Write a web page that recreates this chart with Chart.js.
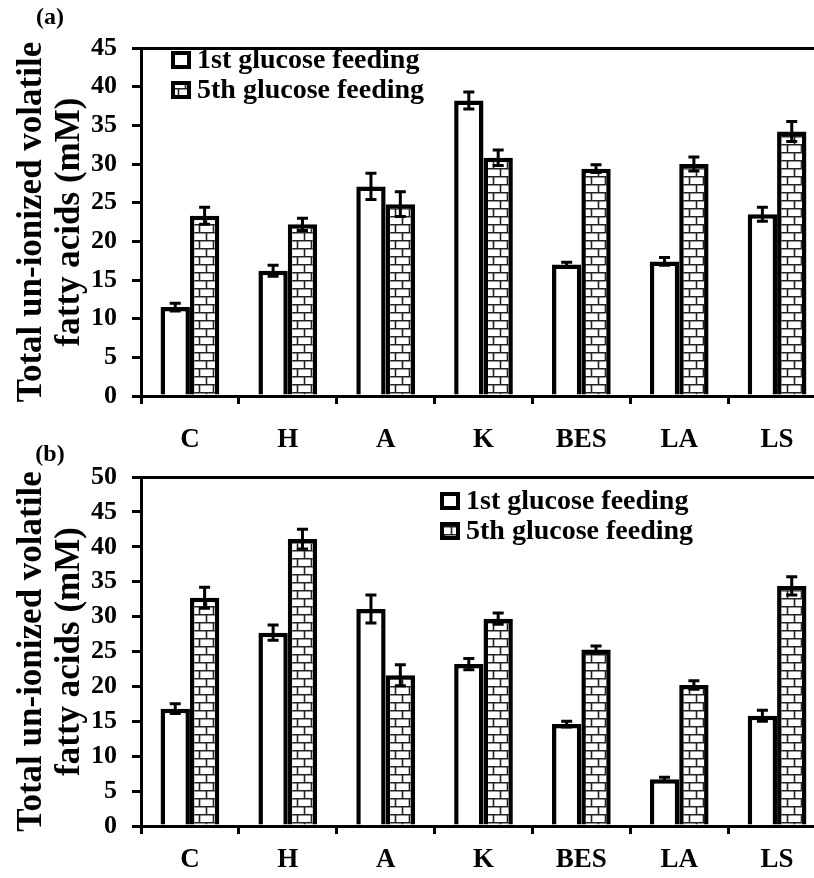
<!DOCTYPE html>
<html lang="en">
<head>
<meta charset="UTF-8">
<title>Total un-ionized volatile fatty acids</title>
<script src="https://cdn.jsdelivr.net/npm/chart.js"></script>
<style>
  html, body { margin: 0; padding: 0; background: #fff; overflow: hidden; }
  .wrap { position: relative; width: 814px; height: 878px; overflow: hidden; }
  canvas { position: absolute; left: 0; }
  #chartA { top: 0; }
  #chartB { top: 430px; }
</style>
</head>
<body>
<div class="wrap">
  <canvas id="chartA" width="840" height="456"></canvas>
  <canvas id="chartB" width="840" height="456"></canvas>
</div>
<script>
var categories = ['C', 'H', 'A', 'K', 'BES', 'LA', 'LS'];
var seriesNames = ['1st glucose feeding', '5th glucose feeding'];
var yTitle = ['Total un-ionized volatile', 'fatty acids (mM)'];

// panel (a)
var firstA    = [11.5, 16.2, 27.1, 38.2, 17.0, 17.4, 23.5];
var firstAErr = [0.5, 0.7, 1.7, 1.1, 0.3, 0.5, 0.9];
var fifthA    = [23.3, 22.2, 24.8, 30.8, 29.4, 30.0, 34.2];
var fifthAErr = [1.1, 0.8, 1.6, 1.0, 0.5, 0.9, 1.3];
var yMaxA = 45;

// panel (b)
var firstB    = [16.8, 27.7, 31.1, 23.2, 14.6, 6.7, 15.8];
var firstBErr = [0.7, 1.1, 2.0, 0.8, 0.4, 0.3, 0.8];
var fifthB    = [32.7, 41.1, 21.6, 29.7, 25.3, 20.2, 34.4];
var fifthBErr = [1.5, 1.4, 1.5, 0.8, 0.5, 0.6, 1.3];
var yMaxB = 50;

var yStep = 5;
var FONT = '"Liberation Serif", "Times New Roman", serif';

function brickPattern(ctx) {
  var c = document.createElement('canvas');
  c.width = 14; c.height = 16;
  var g = c.getContext('2d');
  g.fillStyle = '#fff';
  g.fillRect(0, 0, 14, 16);
  g.strokeStyle = '#222';
  g.lineWidth = 1.6;
  g.beginPath();
  g.moveTo(0, 0.8); g.lineTo(14, 0.8);
  g.moveTo(0, 8.8); g.lineTo(14, 8.8);
  g.moveTo(3.5, 0); g.lineTo(3.5, 8);
  g.moveTo(10.5, 8); g.lineTo(10.5, 16);
  g.stroke();
  return ctx.createPattern(c, 'repeat');
}

// vertical error bars with caps, from dataset.errors
var errorBars = {
  id: 'errorBars',
  afterDatasetsDraw: function(chart) {
    var ctx = chart.ctx, y = chart.scales.y;
    ctx.save();
    ctx.strokeStyle = '#000';
    ctx.lineWidth = 3;
    chart.data.datasets.forEach(function(ds, i) {
      chart.getDatasetMeta(i).data.forEach(function(bar, j) {
        var v = ds.data[j], e = ds.errors[j];
        var top = y.getPixelForValue(v + e), bot = y.getPixelForValue(v - e);
        ctx.beginPath();
        ctx.moveTo(bar.x, top); ctx.lineTo(bar.x, bot);
        ctx.moveTo(bar.x - 5.5, top); ctx.lineTo(bar.x + 5.5, top);
        ctx.moveTo(bar.x - 5.5, bot); ctx.lineTo(bar.x + 5.5, bot);
        ctx.stroke();
      });
    });
    ctx.restore();
  }
};

// legend inside the plot area + the panel letter
var insideLegend = {
  id: 'insideLegend',
  afterDraw: function(chart, args, opts) {
    var ctx = chart.ctx, area = chart.chartArea;
    ctx.save();
    ctx.font = 'bold 28px ' + FONT;
    ctx.textBaseline = 'middle';
    chart.data.datasets.forEach(function(ds, i) {
      var x = area.left + opts.x, yc = area.top + opts.y + i * 30;
      ctx.fillStyle = ds.backgroundColor;
      ctx.fillRect(x, yc - 7, 16, 14);
      ctx.strokeStyle = '#000';
      ctx.lineWidth = 4;
      ctx.strokeRect(x, yc - 7, 16, 14);
      ctx.fillStyle = '#000';
      ctx.fillText(ds.label, x + 24, yc + 1);
    });
    ctx.font = 'bold 24px ' + FONT;
    ctx.textAlign = 'center';
    ctx.fillText(opts.tag, opts.tagX, area.top + opts.tagY);
    ctx.restore();
  }
};

function makeChart(id, first, firstErr, fifth, fifthErr, yMax, legendPos, padTop, labelPad) {
  var ctx = document.getElementById(id).getContext('2d');
  return new Chart(ctx, {
    type: 'bar',
    data: {
      labels: categories,
      datasets: [
        { label: seriesNames[0], data: first, errors: firstErr,
          backgroundColor: '#fff', borderColor: '#000', borderWidth: 4.5 },
        { label: seriesNames[1], data: fifth, errors: fifthErr,
          backgroundColor: brickPattern(ctx), borderColor: '#000', borderWidth: 4.5 }
      ]
    },
    options: {
      responsive: false,
      animation: false,
      layout: { padding: { top: padTop, right: 14, left: 0, bottom: 0 } },
      datasets: { bar: { categoryPercentage: 0.6, barPercentage: 1.0 } },
      plugins: {
        legend: { display: false },
        tooltip: { enabled: false },
        insideLegend: legendPos
      },
      scales: {
        x: {
          afterFit: function(s) { s.height = 60; },
          grid: { offset: true, drawOnChartArea: false, tickLength: 8, tickColor: '#000', tickWidth: 3 },
          border: { color: '#000', width: 3 },
          ticks: { color: '#000', padding: labelPad, font: { family: FONT, size: 27, weight: 'bold' } }
        },
        y: {
          min: 0, max: yMax,
          afterFit: function(s) { s.width = 141; },
          grid: {
            color: function(c) { return c.tick && c.tick.value === yMax ? '#000' : 'rgba(0,0,0,0)'; },
            lineWidth: 3, tickLength: 9, tickColor: '#000', tickWidth: 3
          },
          border: { color: '#000', width: 3 },
          ticks: { stepSize: yStep, color: '#000', padding: 15, font: { family: FONT, size: 26, weight: 'bold' } },
          title: {
            display: true, text: yTitle, color: '#000', padding: { top: 13, bottom: 0 },
            font: { family: FONT, size: 35, weight: 'bold', lineHeight: 1.08 }
          }
        }
      }
    },
    plugins: [errorBars, insideLegend]
  });
}

makeChart('chartA', firstA, firstAErr, fifthA, fifthAErr, yMaxA,
  { x: 32, y: 12, tag: '(a)', tagX: 50, tagY: -30 }, 48, 20);
makeChart('chartB', firstB, firstBErr, fifthB, fifthBErr, yMaxB,
  { x: 301, y: 24, tag: '(b)', tagX: 50, tagY: -22 }, 47, 10);
</script>
</body>
</html>
